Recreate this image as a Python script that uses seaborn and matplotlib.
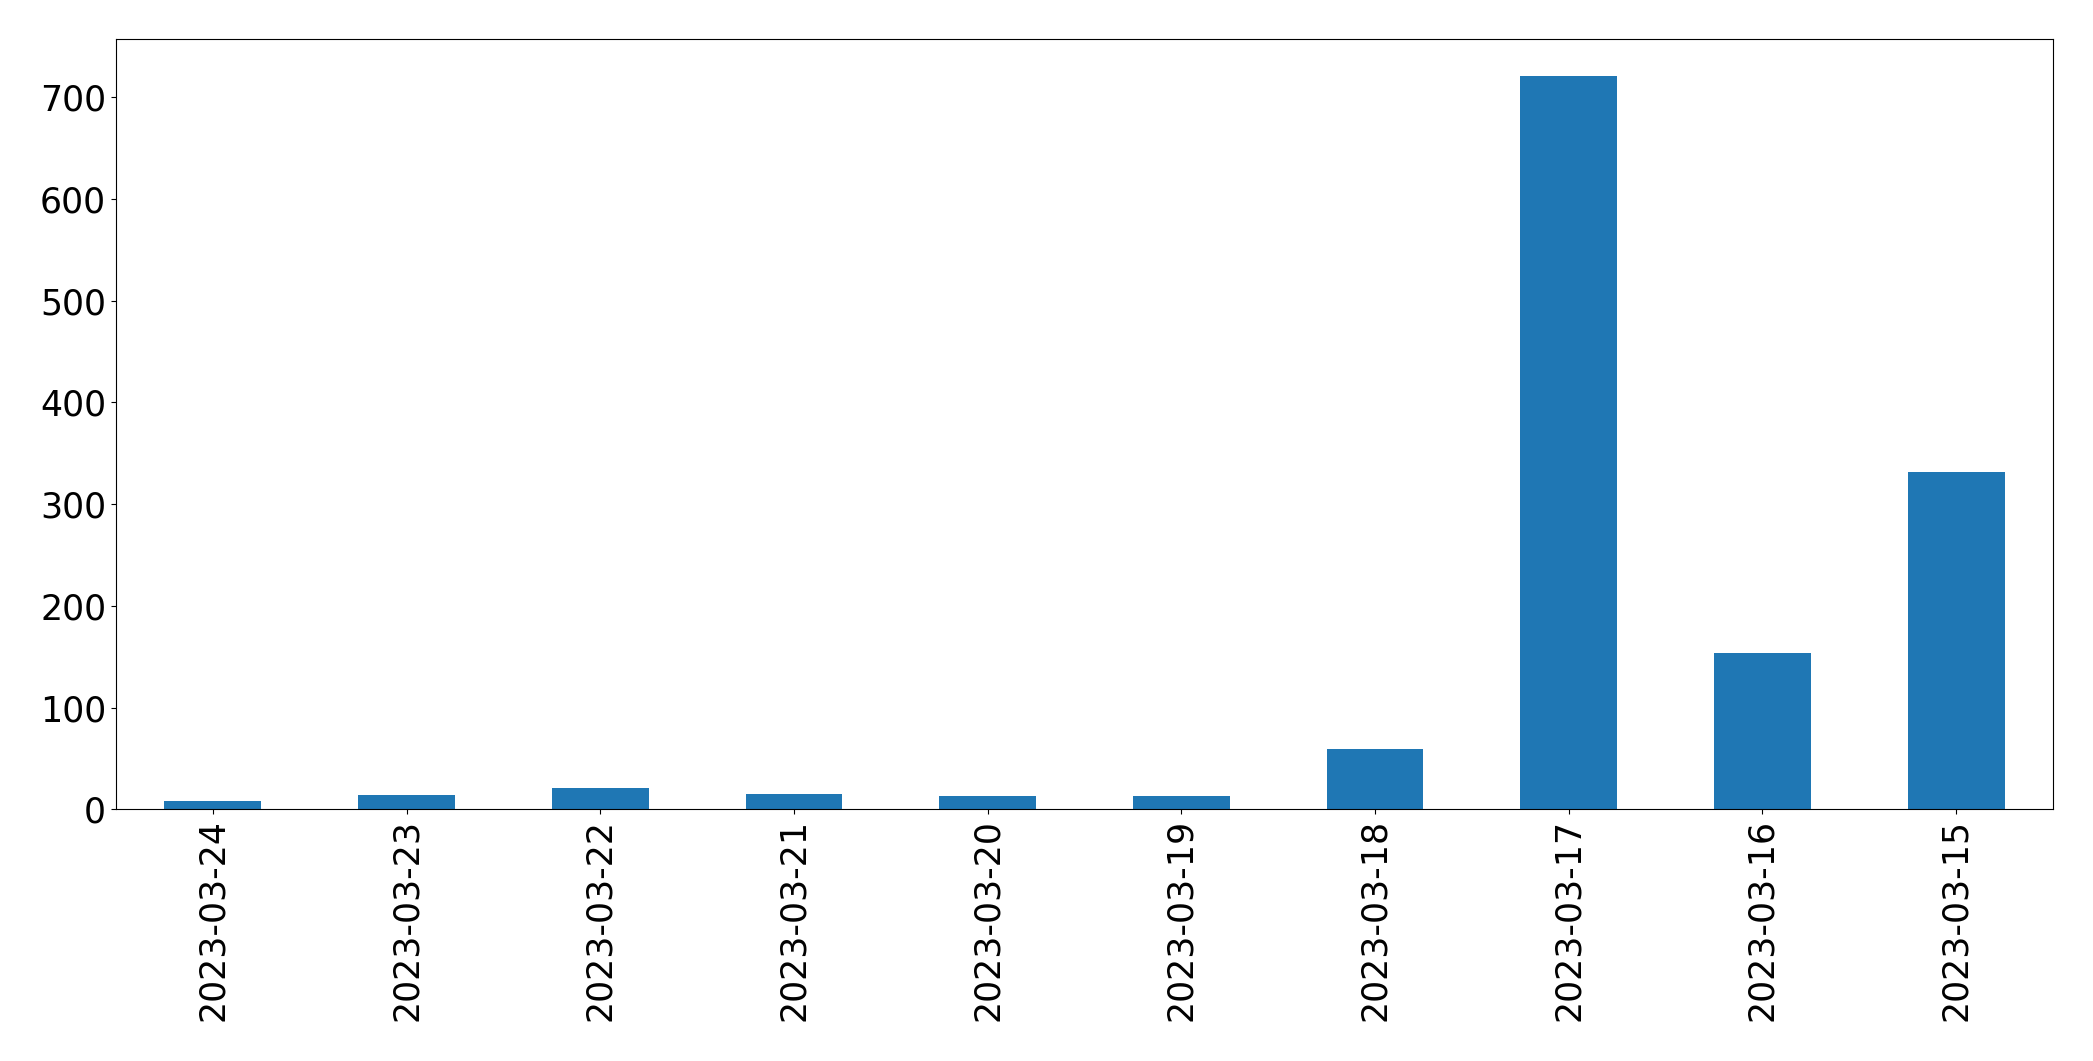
import matplotlib
matplotlib.use("Agg")
import matplotlib.pyplot as plt
import seaborn as sns
import pandas as pd

# daily counts, newest first (as in the original)
dates = ["2023-03-24", "2023-03-23", "2023-03-22", "2023-03-21", "2023-03-20",
         "2023-03-19", "2023-03-18", "2023-03-17", "2023-03-16", "2023-03-15"]
counts = [8, 14, 21, 15, 13, 13, 59, 721, 154, 332]

df = pd.DataFrame({"date": dates, "count": counts})

fig, ax = plt.subplots(figsize=(20.93, 10.61), dpi=100)
fig.subplots_adjust(left=0.0554, right=0.9809, top=0.9632, bottom=0.2372)

sns.barplot(data=df, x="date", y="count", order=dates, color="#1f77b4",
            saturation=1, width=0.5, linewidth=0, ax=ax)

ax.set_xlim(-0.5, len(dates) - 0.5)
ax.set_ylim(0, max(counts) * 1.05)
ax.set_xlabel("")
ax.set_ylabel("")
for s in ax.spines.values():
    s.set_color("black")
ax.tick_params(axis="both", labelsize=25)
ax.tick_params(axis="x", labelrotation=90)

fig.savefig("out.png", dpi=100)
